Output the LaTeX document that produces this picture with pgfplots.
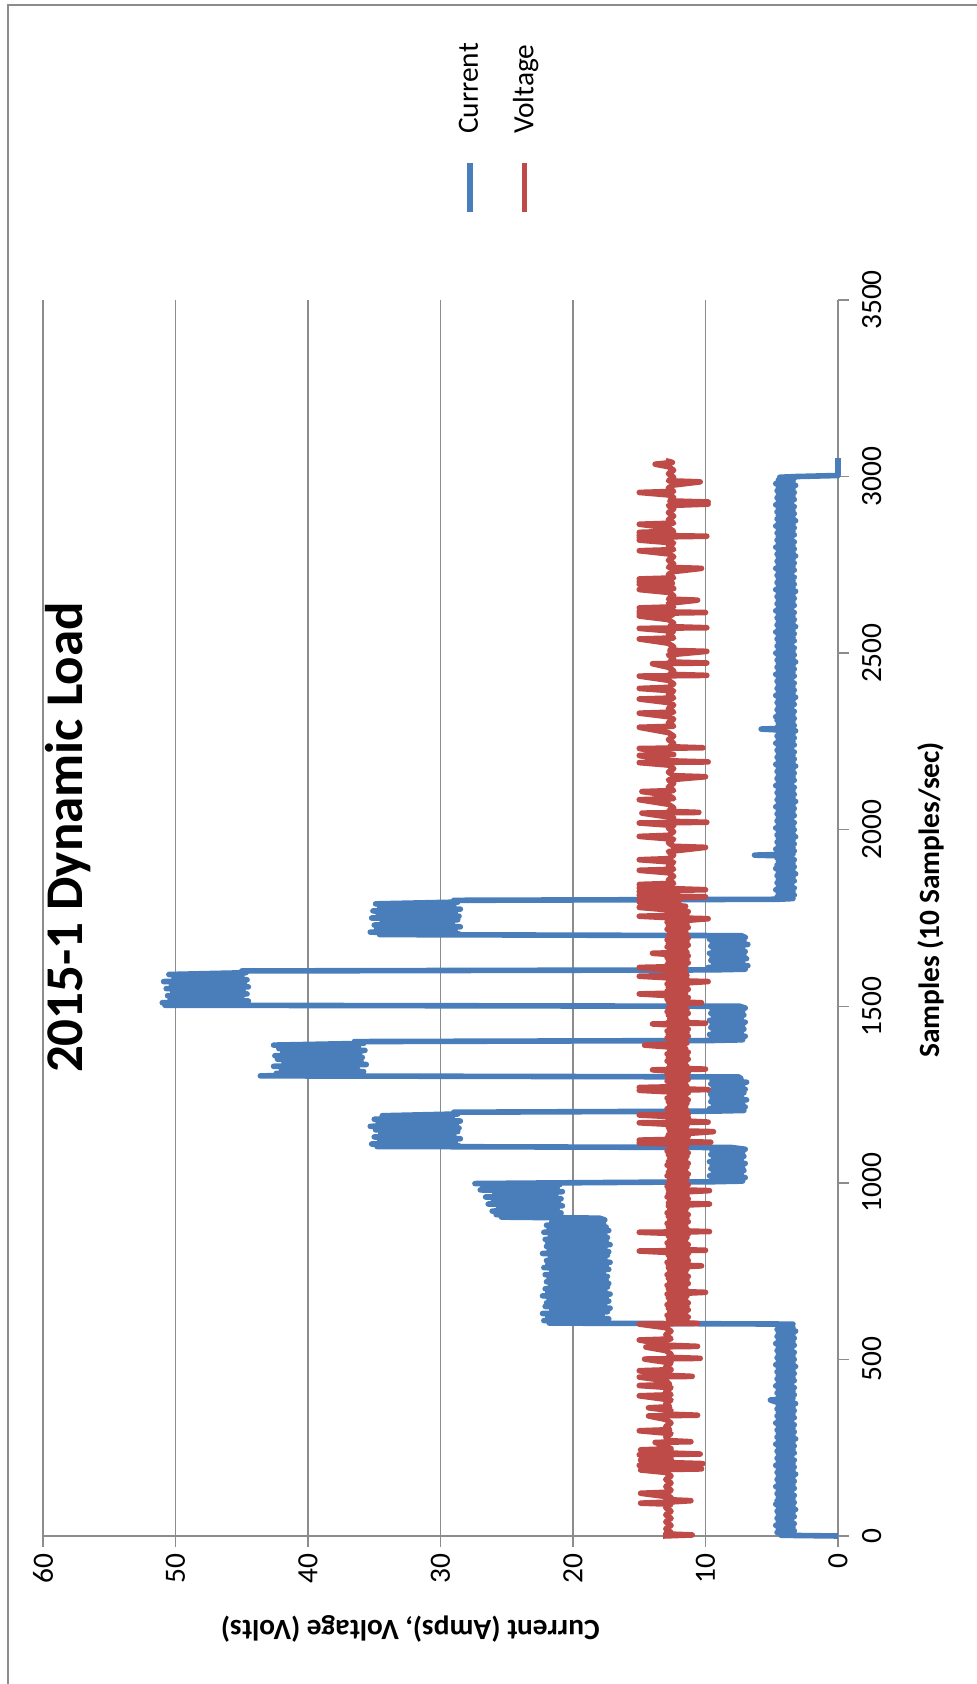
\documentclass[border=0pt]{standalone}
\usepackage{fontspec}
\setmainfont{Carlito}
\usepackage{graphicx}
\usepackage{pgfplots}
\pgfplotsset{compat=1.18}
\definecolor{curblue}{HTML}{4A7EBB}
\definecolor{volred}{HTML}{BE4B48}
\definecolor{gridgray}{HTML}{8C8C8C}
\newcommand{\lbl}{\fontsize{14.7}{17.6}\selectfont}
\begin{document}
\rotatebox{90}{%
\begin{tikzpicture}
\path[use as bounding box] (0,0) rectangle (842pt,488.5pt);
\draw[gridgray, line width=0.75pt] (-10pt,-10pt) rectangle (839.5pt,484.5pt);
\begin{axis}[
  at={(74pt,69.5pt)}, anchor=south west,
  scale only axis, width=618pt, height=397.5pt,
  xmin=0, xmax=3500, ymin=0, ymax=60,
  xtick={0,500,...,3500}, ytick={0,10,...,60},
  axis lines=left, axis line style={-, gridgray, line width=0.75pt},
  tick align=outside, major tick length=5.5pt,
  tick style={gridgray, line width=0.75pt},
  ymajorgrids, grid style={gridgray, line width=0.75pt},
  /pgf/number format/1000 sep={},
  /pgf/number format/assume math mode=true,
  tick label style={font=\lbl, black},
  xticklabel style={yshift=-3pt},
  xlabel={Samples (10 Samples/sec)},
  xlabel style={font=\lbl\bfseries, at={(axis description cs:0.5146,-0.117)}, anchor=center},
  ylabel={Current (Amps), Voltage (Volts)},
  ylabel style={font=\lbl\bfseries, at={(axis description cs:-0.075,0.538)}, anchor=center},
  title={2015-1 Dynamic Load},
  title style={font=\fontsize{26.5}{32}\selectfont\bfseries, at={(axis description cs:0.565,0.953)}, anchor=center},
  legend style={at={(axis description cs:1.0688,0.4283)}, anchor=west, draw=none, fill=none, font=\lbl, row sep=16pt, inner sep=0pt, column sep=13pt, nodes={inner sep=0pt}},
  legend cell align=left,
  legend image code/.code={\draw[#1, line width=2.8pt] (0pt,0pt) -- (24.5pt,0pt);},
  clip=false,
]
\addplot[curblue, line width=2.8pt, line join=round] coordinates {
(0,0) (2,4.3) (5,3.4) (10,4.6) (15,3.3) (20,4.5) (25,3.4) (30,4.7) (35,3.3) (40,4.5) (45,3.5) (50,4.6) (55,3.3) (60,4.5) (65,3.4) (70,4.6) (75,3.2) (80,4.5) (85,3.4) (90,4.7) (95,3.3) (100,4.6) (105,3.4) (110,4.5) (115,3.3) (120,4.6) (125,3.5) (130,4.5) (135,3.3) (140,4.7) (145,3.4) (150,4.5) (155,3.3) (160,4.6) (165,3.4) (170,4.5) (175,3.2) (180,4.6) (185,3.4) (190,4.5) (195,3.3) (200,4.7) (205,3.4) (210,4.5) (215,3.3) (220,4.6) (225,3.5) (230,4.5) (235,3.3) (240,4.6) (245,3.4) (250,4.5) (255,3.3) (260,4.7) (265,3.4) (270,4.5) (275,3.2) (280,4.6) (285,3.4) (290,4.5) (295,3.3) (300,4.6) (305,3.4) (310,4.5) (315,3.3) (320,4.7) (325,3.5) (330,4.5) (335,3.3) (340,4.6) (345,3.4) (350,4.5) (355,3.3) (360,4.6) (365,3.4) (370,4.5) (375,3.2) (380,4.7) (385,5.1) (390,3.4) (395,4.5) (400,3.3) (405,4.6) (410,3.4) (415,4.5) (420,3.3) (425,4.7) (430,3.5) (435,4.5) (440,3.3) (445,4.6) (450,3.4) (455,4.5) (460,3.3) (465,4.6) (470,3.4) (475,4.5) (480,3.2) (485,4.7) (490,3.4) (495,4.5) (500,3.3) (505,4.6) (510,3.4) (515,4.5) (520,3.3) (525,4.6) (530,3.5) (535,4.5) (540,3.3) (545,4.7) (550,3.4) (555,4.5) (560,3.3) (565,4.6) (570,3.4) (575,4.5) (580,3.2) (585,4.6) (590,3.4) (595,4.5) (600,3.4)
(603,21.8) (605,17.6) (610,22.2) (615,17.3) (620,21.9) (625,17.8) (630,22.3) (635,17.4) (640,21.6) (645,17.2) (650,22.1) (655,17.6) (660,22.0) (665,17.3) (670,21.8) (675,17.5) (680,22.3) (685,17.2) (690,21.9) (695,17.6) (700,22.1) (705,17.4) (710,21.7) (715,17.3) (720,22.0) (725,17.5) (730,21.8) (735,17.4) (740,22.1) (745,17.7) (750,21.6) (755,17.3) (760,22.2) (765,17.5) (770,21.9) (775,17.2) (780,22.0) (785,17.6) (790,21.7) (795,17.4) (800,22.3) (805,17.3) (810,21.8) (815,17.6) (820,22.0) (825,17.2) (830,21.9) (835,17.5) (840,22.1) (845,17.4) (850,21.7) (855,17.6) (860,22.2) (865,17.3) (870,21.8) (875,17.5) (880,22.0) (885,17.7) (890,21.6) (895,17.6) (900,18.0)
(903,25.4) (905,21.0) (910,25.8) (915,20.9) (920,26.1) (925,21.2) (930,25.6) (935,20.8) (940,26.4) (945,21.1) (950,26.0) (955,20.9) (960,26.6) (965,21.3) (970,25.9) (975,20.8) (980,27.0) (985,21.2) (990,26.8) (995,21.0) (998,27.4) (1000,21.0)
(1003,9.6) (1005,7.2) (1010,9.5) (1015,7.0) (1020,9.7) (1025,7.3) (1030,9.4) (1035,7.1) (1040,9.6) (1045,7.2) (1050,9.5) (1055,7.0) (1060,9.7) (1065,7.3) (1070,9.4) (1075,7.1) (1080,9.6) (1085,7.2) (1090,9.5) (1095,7.0) (1100,8.0)
(1103,34.8) (1105,28.6) (1110,35.2) (1115,28.9) (1120,34.6) (1125,28.5) (1130,35.0) (1135,29.0) (1140,34.5) (1145,28.7) (1150,34.9) (1155,28.6) (1160,35.3) (1165,28.8) (1170,34.7) (1175,28.5) (1180,35.0) (1185,29.1) (1190,34.4) (1195,28.7) (1200,29.0)
(1203,9.5) (1205,7.1) (1210,9.7) (1215,7.0) (1220,9.4) (1225,7.2) (1230,9.6) (1235,6.9) (1240,9.5) (1245,7.3) (1250,9.6) (1255,7.1) (1260,9.7) (1265,7.0) (1270,9.4) (1275,7.2) (1280,9.6) (1285,6.9) (1290,9.5) (1295,7.3) (1300,7.5)
(1303,43.6) (1305,36.2) (1310,42.4) (1315,35.8) (1320,42.0) (1325,36.3) (1330,42.6) (1335,35.6) (1340,41.8) (1345,36.0) (1350,42.3) (1355,35.9) (1360,42.5) (1365,36.1) (1370,41.9) (1375,35.7) (1380,42.2) (1385,36.2) (1390,42.6) (1395,35.8) (1400,36.5)
(1403,9.6) (1405,7.2) (1410,9.5) (1415,7.0) (1420,9.7) (1425,7.3) (1430,9.4) (1435,7.1) (1440,9.6) (1445,7.2) (1450,9.5) (1455,7.0) (1460,9.7) (1465,7.3) (1470,9.4) (1475,7.1) (1480,9.6) (1485,7.2) (1490,9.5) (1495,7.0) (1500,7.4)
(1503,50.8) (1505,44.8) (1510,51.0) (1515,44.5) (1520,50.4) (1525,45.0) (1530,50.6) (1535,44.6) (1540,50.2) (1545,44.9) (1550,50.7) (1555,44.5) (1560,50.3) (1565,44.8) (1570,50.9) (1575,44.6) (1580,50.1) (1585,45.0) (1590,50.5) (1595,44.7) (1600,45.0)
(1603,9.5) (1605,7.0) (1610,9.8) (1615,6.8) (1620,9.4) (1625,7.2) (1630,9.6) (1635,6.9) (1640,9.5) (1645,7.1) (1650,9.7) (1655,7.0) (1660,9.4) (1665,7.2) (1670,9.6) (1675,6.8) (1680,9.5) (1685,7.1) (1690,9.7) (1695,7.0) (1700,7.3)
(1703,34.6) (1705,28.6) (1710,35.3) (1715,28.9) (1720,34.8) (1725,28.5) (1730,35.0) (1735,29.1) (1740,34.4) (1745,28.7) (1750,35.2) (1755,28.6) (1760,34.7) (1765,28.9) (1770,35.1) (1775,28.5) (1780,34.6) (1785,29.0) (1790,34.9) (1795,28.7) (1800,29.0)
(1803,4.5) (1805,3.4) (1810,4.6) (1815,3.3) (1820,4.5) (1825,3.4) (1830,4.7) (1835,3.3) (1840,4.5) (1845,3.5) (1850,4.6) (1855,3.3) (1860,4.5) (1865,3.4) (1870,4.6) (1875,3.2) (1880,4.5) (1885,3.4) (1890,4.7) (1895,3.3) (1900,4.6) (1905,3.4) (1910,4.5) (1915,3.3) (1920,4.6) (1925,3.5) (1928,6.3) (1931,3.4) (1935,4.5) (1940,3.3) (1945,4.7) (1950,3.4) (1955,4.5) (1960,3.3) (1965,4.6) (1970,3.4) (1975,4.5) (1980,3.2) (1985,4.6) (1990,3.4) (1995,4.5) (2000,3.3) (2005,4.7) (2010,3.4) (2015,4.5) (2020,3.3) (2025,4.6) (2030,3.5) (2035,4.5) (2040,3.3) (2045,4.6) (2050,3.4) (2055,4.5) (2060,3.3) (2065,4.7) (2070,3.4) (2075,4.5) (2080,3.2) (2085,4.6) (2090,3.4) (2095,4.5) (2100,3.3) (2105,4.6) (2110,3.4) (2115,4.5) (2120,3.3) (2125,4.7) (2130,3.5) (2135,4.5) (2140,3.3) (2145,4.6) (2150,3.4) (2155,4.5) (2160,3.3) (2165,4.6) (2170,3.4) (2175,4.5) (2180,3.2) (2185,4.7) (2190,3.4) (2195,4.5) (2200,3.3) (2205,4.6) (2210,3.4) (2215,4.5) (2220,3.3) (2225,4.6) (2230,3.5) (2235,4.5) (2240,3.3) (2245,4.7) (2250,3.4) (2255,4.5) (2260,3.3) (2265,4.6) (2270,3.4) (2275,4.5) (2280,3.2) (2285,5.8) (2288,3.4) (2290,4.6) (2295,3.3) (2300,4.5)
(2305,3.4) (2310,4.6) (2315,3.3) (2320,4.7) (2325,3.4) (2330,4.5) (2335,3.3) (2340,4.6) (2345,3.5) (2350,4.5) (2355,3.3) (2360,4.6) (2365,3.4) (2370,4.5) (2375,3.2) (2380,4.7) (2385,3.4) (2390,4.5) (2395,3.3) (2400,4.6) (2405,3.4) (2410,4.5) (2415,3.3) (2420,4.6) (2425,3.5) (2430,4.5) (2435,3.3) (2440,4.7) (2445,3.4) (2450,4.5) (2455,3.3) (2460,4.6) (2465,3.4) (2470,4.5) (2475,3.2) (2480,4.6) (2485,3.4) (2490,4.5) (2495,3.3) (2500,4.7) (2505,3.4) (2510,4.5) (2515,3.3) (2520,4.6) (2525,3.5) (2530,4.5) (2535,3.3) (2540,4.6) (2545,3.4) (2550,4.5) (2555,3.3) (2560,4.7) (2565,3.4) (2570,4.5) (2575,3.2) (2580,4.6) (2585,3.4) (2590,4.5) (2595,3.3) (2600,4.6) (2605,3.4) (2610,4.5) (2615,3.3) (2620,4.7) (2625,3.5) (2630,4.5) (2635,3.3) (2640,4.6) (2645,3.4) (2650,4.5) (2655,3.3) (2660,4.6) (2665,3.4) (2670,4.5) (2675,3.2) (2680,4.7) (2685,3.4) (2690,4.5) (2695,3.3) (2700,4.6) (2705,3.4) (2710,4.5) (2715,3.3) (2720,4.6) (2725,3.5) (2730,4.5) (2735,3.3) (2740,4.7) (2745,3.4) (2750,4.5) (2755,3.3) (2760,4.6) (2765,3.4) (2770,4.5) (2775,3.2) (2780,4.6) (2785,3.4) (2790,4.5) (2795,3.3) (2800,4.7) (2805,3.4) (2810,4.5) (2815,3.3) (2820,4.6) (2825,3.5) (2830,4.5) (2835,3.3) (2840,4.6) (2845,3.4) (2850,4.5) (2855,3.3) (2860,4.7) (2865,3.4) (2870,4.5) (2875,3.2) (2880,4.6) (2885,3.4) (2890,4.5) (2895,3.3) (2900,4.6) (2905,3.4) (2910,4.5) (2915,3.3) (2920,4.7) (2925,3.5) (2930,4.5) (2935,3.3) (2940,4.6) (2945,3.4) (2950,4.5) (2955,3.3) (2960,4.6) (2965,3.4) (2970,4.5) (2975,3.2) (2980,4.7) (2985,3.4) (2990,4.5) (2995,3.3) (2998,4.4) (3000,3.2) (3003,0) (3052,0)
};
\addlegendentry{Current}
\addplot[volred, line width=2.8pt, line join=round] coordinates {
(0,13.2) (3,11.0) (6,13.0) (10,12.6) (20,13.0) (30,12.6) (40,13.0) (50,12.6) (60,13.0) (70,12.6) (80,13.0) (90,12.6) (93,14.9) (96,12.8) (100,11.1) (103,12.9) (110,12.6) (121,14.9) (124,12.8) (130,12.6) (140,13.0) (150,12.6) (160,13.0) (170,12.6) (180,13.0) (187,14.9) (190,10.3) (193,12.8) (200,15.0) (203,12.6) (205,10.2) (208,12.9) (215,14.9) (218,12.6) (225,13.0) (230,15.0) (232,10.4) (235,12.7) (244,14.9) (247,12.6) (255,13.0) (265,13.8) (267,11.1) (270,12.7) (280,13.0) (290,12.6) (298,15.0) (301,12.7) (310,13.0) (320,12.6) (330,13.0) (340,14.3) (342,10.6) (345,12.8) (355,12.6) (363,14.3) (366,12.7) (375,13.0) (385,12.6) (397,15.0) (400,12.6) (410,13.0) (420,12.6) (426,15.0) (429,12.7) (440,13.0) (450,15.0) (452,11.0) (455,12.8) (468,15.0) (471,12.6) (480,13.0) (490,12.6) (501,14.6) (503,10.4) (506,12.8) (515,12.6) (525,13.0) (535,14.5) (537,10.6) (540,12.7) (555,15.0) (558,12.6) (570,13.0) (580,12.6) (590,13.0) (600,15.0) (602,10.6) (605,12.4)
(610,11.4) (615,12.8) (620,11.3) (625,12.9) (630,11.5) (635,12.7) (640,11.3) (645,12.8) (650,11.4) (655,12.9) (660,11.3) (665,12.7) (670,11.5) (675,12.8) (680,11.4) (685,12.9) (690,10.0) (693,12.6) (695,11.4) (700,12.8) (705,11.5) (710,12.9) (715,11.3) (720,12.7) (725,11.4) (730,12.8) (735,11.3) (740,12.9) (745,11.5) (750,12.7) (755,11.4) (760,12.8) (765,10.3) (768,12.8) (770,11.5) (775,12.9) (780,11.3) (785,12.7) (790,11.4) (795,12.8) (800,11.3) (807,15.0) (809,10.0) (812,12.7) (815,11.4) (820,12.8) (825,11.3) (830,12.9) (835,11.5) (840,12.7) (845,11.4) (850,12.8) (855,11.3) (860,15.0) (862,9.7) (865,12.6) (870,11.4) (875,12.8) (880,11.5) (885,12.9) (890,11.3) (895,12.7) (900,11.4) (905,12.8) (910,11.3) (915,12.9) (920,11.5) (925,12.7) (930,11.4) (935,12.8) (940,9.7) (943,12.8) (945,11.5) (950,12.7) (955,11.3) (960,12.9) (965,11.4) (970,12.8) (975,11.3) (978,9.7) (981,12.8) (985,11.4) (990,12.9) (995,11.3) (1000,12.8) (1005,11.5) (1010,12.7) (1015,11.4) (1020,12.9) (1025,11.3) (1030,12.8) (1035,11.5) (1040,12.7) (1045,11.4) (1050,12.9) (1055,11.3) (1060,12.8) (1065,11.5) (1070,12.7) (1075,11.4) (1080,12.8) (1085,11.3) (1090,12.9) (1095,11.5) (1100,12.7) (1105,11.4) (1110,12.8) (1113,15.0) (1115,9.6) (1118,12.8) (1121,15.0) (1124,11.4) (1128,12.9) (1132,11.3) (1136,12.8) (1140,11.3) (1145,9.4) (1148,12.7) (1152,11.5) (1157,12.8) (1162,11.4) (1166,12.9) (1170,15.0) (1172,9.8) (1175,11.4) (1180,12.8) (1185,11.3) (1192,15.0) (1195,11.3) (1200,12.8) (1205,11.4) (1210,12.9) (1215,11.5) (1220,12.7) (1225,11.4) (1230,12.8) (1235,11.3) (1240,12.9) (1245,11.5) (1250,12.7) (1255,11.3) (1262,15.0) (1264,9.8) (1267,12.8) (1270,15.0) (1273,11.4) (1278,12.7) (1283,11.5) (1288,12.9) (1293,11.3) (1298,12.8) (1303,11.4) (1308,12.9) (1313,11.3) (1320,14.0) (1322,10.0) (1325,12.8) (1330,11.4) (1335,12.7) (1340,11.5) (1345,12.9) (1350,11.3) (1355,12.8) (1360,11.4) (1365,12.9) (1370,11.3) (1375,12.7) (1380,11.5) (1385,12.8) (1390,14.6) (1393,12.8) (1396,11.4) (1400,12.7) (1405,11.5) (1410,12.9) (1415,11.3) (1420,12.8) (1425,11.4) (1430,12.9) (1435,11.3) (1440,12.7) (1445,11.5) (1450,14.0) (1452,10.0) (1455,12.8) (1460,11.4) (1465,12.7) (1470,11.5) (1475,12.8) (1480,11.3) (1485,12.9) (1490,11.4) (1495,12.8) (1500,11.5) (1505,12.7) (1510,10.3) (1513,12.8) (1516,11.4) (1520,12.9) (1525,11.3) (1530,12.7) (1535,15.0) (1538,11.5) (1543,12.9) (1548,11.3) (1553,12.8) (1558,11.4) (1563,12.9) (1570,9.8) (1573,12.8) (1578,11.4) (1585,15.0) (1588,11.4) (1593,12.7) (1598,11.5) (1603,12.8) (1610,15.0) (1613,11.5) (1618,12.9) (1623,11.3) (1628,12.8) (1633,11.4) (1638,12.9) (1643,11.3) (1650,14.0) (1653,11.4) (1658,12.7) (1663,11.5) (1668,12.9) (1673,11.3) (1678,12.8) (1683,11.4) (1688,12.9) (1693,11.3) (1698,12.8) (1703,11.4) (1708,12.7) (1713,11.5) (1718,12.9) (1723,11.3) (1728,12.8) (1733,11.4) (1738,12.9) (1743,11.5) (1748,9.8) (1751,12.8) (1755,15.0) (1758,11.4) (1763,12.9) (1768,11.3) (1773,12.8) (1780,15.0) (1783,11.5) (1788,12.8) (1795,15.0) (1798,12.0)
(1805,15.0) (1807,12.5) (1810,10.0) (1812,12.7) (1815,15.0) (1818,12.4) (1825,15.0) (1828,12.8) (1830,10.0) (1833,12.4) (1835,15.0) (1838,12.8) (1845,15.0) (1848,12.4) (1858,12.8) (1868,12.4) (1878,12.8) (1885,15.0) (1888,12.4) (1898,12.8) (1908,12.4) (1915,15.0) (1918,12.8) (1928,12.4) (1938,12.8) (1950,10.0) (1953,12.4) (1963,12.8) (1973,12.4) (1981,15.0) (1984,12.8) (1994,12.4) (2004,12.8) (2012,12.4) (2019,15.0) (2021,9.9) (2024,12.8) (2034,12.4) (2047,14.8) (2049,10.5) (2052,12.8) (2062,12.4) (2072,12.8) (2085,15.0) (2088,12.4) (2098,12.8) (2108,14.8) (2111,12.4) (2121,12.8) (2131,12.4) (2141,12.8) (2150,10.0) (2153,12.4) (2163,12.8) (2173,12.4) (2183,12.8) (2190,15.0) (2192,9.8) (2195,12.6) (2210,15.0) (2213,12.4) (2230,15.0) (2232,10.2) (2235,12.7) (2245,12.4) (2255,12.8) (2265,12.4) (2275,12.8) (2290,15.0) (2293,12.4) (2303,12.8) (2313,12.4) (2320,12.8) (2330,15.0) (2333,12.4) (2343,12.8) (2353,12.4) (2360,12.8) (2370,15.0) (2373,12.4) (2383,12.8) (2393,12.4) (2400,15.0) (2403,12.8) (2413,12.4) (2423,12.8) (2435,15.0) (2437,9.9) (2440,12.7) (2450,12.4) (2460,12.8) (2470,14.0) (2472,9.9) (2475,12.7) (2485,12.4) (2495,12.8) (2505,9.9) (2508,12.7) (2518,12.4) (2528,12.8) (2540,15.0) (2543,12.4) (2553,12.8) (2562,12.4) (2570,15.0) (2572,9.9) (2575,12.7) (2585,12.4) (2595,12.8) (2605,15.0) (2608,12.5) (2612,15.0) (2615,10.0) (2618,15.0) (2621,12.8) (2628,15.0) (2631,12.4) (2641,12.8) (2650,10.6) (2653,12.8) (2663,12.4) (2672,12.8) (2680,15.0) (2683,12.4) (2690,12.8) (2695,15.0) (2698,12.5) (2702,15.0) (2705,12.6) (2710,15.0) (2713,12.4) (2723,12.8) (2731,12.4) (2740,10.3) (2743,12.8) (2753,12.4) (2763,12.8) (2773,12.4) (2781,12.8) (2790,15.0) (2793,12.4) (2803,12.8) (2812,12.4) (2820,15.0) (2823,12.6) (2828,15.0) (2831,9.9) (2834,15.0) (2837,12.5) (2842,15.0) (2845,12.4) (2855,12.8) (2865,15.0) (2868,12.4) (2878,12.8) (2888,12.4) (2898,12.8) (2908,12.4) (2918,12.8) (2922,9.8) (2925,12.6) (2928,9.8) (2931,12.7) (2941,12.4) (2948,12.8) (2955,15.0) (2958,12.4) (2968,12.8) (2976,12.4) (2985,10.4) (2988,12.8) (2998,12.4) (3008,12.8) (3018,12.4) (3028,12.8) (3035,13.8) (3040,12.5) (3045,13.0)
};
\addlegendentry{Voltage}
\end{axis}
\end{tikzpicture}%
}
\end{document}
